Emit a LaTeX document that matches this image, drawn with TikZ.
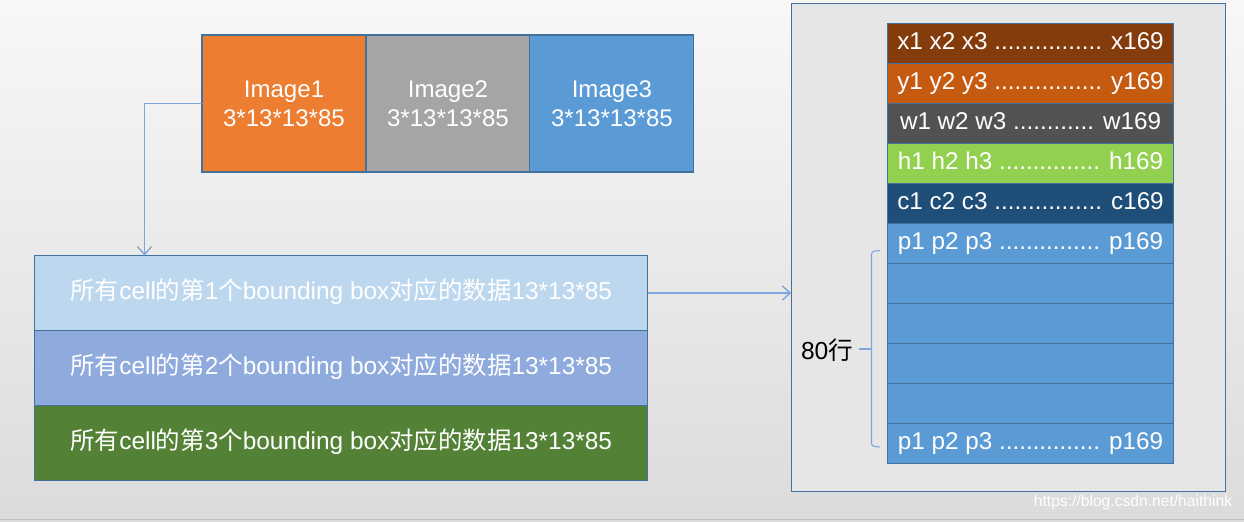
\documentclass[tikz,border=0pt]{standalone}
\usepackage{fontspec}
\setmainfont{Liberation Sans}
\newfontfamily\cjk{Noto Sans CJK SC}
\usepackage{xcolor}
\usepackage{tikz}
\usetikzlibrary{arrows.meta,positioning}

\definecolor{edgeblue}{HTML}{41719C}
\definecolor{connblue}{HTML}{7EA6DA}
\definecolor{imgorange}{HTML}{ED7D31}
\definecolor{imggray}{HTML}{A5A5A5}
\definecolor{imgblue}{HTML}{5B9BD5}
\definecolor{boxone}{HTML}{BDD7EE}
\definecolor{boxtwo}{HTML}{8FAADC}
\definecolor{boxthree}{HTML}{538135}
\definecolor{rowx}{HTML}{843C0C}
\definecolor{rowy}{HTML}{C55A11}
\definecolor{roww}{HTML}{525252}
\definecolor{rowh}{HTML}{92D050}
\definecolor{rowc}{HTML}{1F4E79}
\definecolor{rowp}{HTML}{5B9BD5}
\definecolor{panelgray}{HTML}{E6E6E6}

\newcommand{\zh}[1]{{\cjk #1}}

\tikzset{
  imgbox/.style={draw=edgeblue,line width=0.6pt,text=white,align=center,
    minimum width=3.28cm,minimum height=2.74cm,inner sep=0pt,outer sep=0pt,
    font=\fontsize{13.7}{16.6}\selectfont},
  bbox/.style={draw=edgeblue,line width=0.6pt,text=white,
    minimum width=12.27cm,minimum height=1.5cm,inner sep=0pt,outer sep=0pt,
    text height=0.72em,text depth=0pt,
    font=\fontsize{13.9}{16}\selectfont},
  cell/.style={draw=edgeblue,line width=0.6pt,text=white,
    minimum width=5.72cm,minimum height=0.8cm,inner sep=0pt,outer sep=0pt,
    text height=0.72em,text depth=0pt,
    font=\fontsize{13.8}{16}\selectfont},
  conn/.style={connblue,line width=0.8pt,-{Straight Barb[length=4.5pt,width=8pt]}}
}

\begin{document}
\begin{tikzpicture}[x=0.02cm,y=-0.02cm]
    % background
    \shade[top color=white!97!black,bottom color=white!86!black] (0,0) rectangle (1244,521);
    \useasboundingbox (0,0) rectangle (1244,521);
    \draw[white!75!black,line width=0.6pt] (0,519.5) -- (1244,519.5);

    % the three images
    \node[imgbox,fill=imgorange] (img1) at (284,103.5) {Image1\\3*13*13*85};
    \node[imgbox,fill=imggray,right=0pt of img1] (img2) {Image2\\3*13*13*85};
    \node[imgbox,fill=imgblue,right=0pt of img2] (img3) {Image3\\3*13*13*85};

    % the three bounding boxes
    \node[bbox,fill=boxone] (bb1) at (341.25,293)
      {\zh{所有}cell\zh{的第}1\zh{个}bounding box\zh{对应的数据}13*13*85};
    \node[bbox,fill=boxtwo,below=0pt of bb1] (bb2)
      {\zh{所有}cell\zh{的第}2\zh{个}bounding box\zh{对应的数据}13*13*85};
    \node[bbox,fill=boxthree,below=0pt of bb2] (bb3)
      {\zh{所有}cell\zh{的第}3\zh{个}bounding box\zh{对应的数据}13*13*85};

    \coordinate (drop) at (144.5,255.5);
    \draw[conn] (img1.west) -| (drop);

    % right panel with the 85 rows
    \node[draw=edgeblue,line width=0.6pt,fill=panelgray,minimum width=8.69cm,
      minimum height=9.78cm,inner sep=0pt,outer sep=0pt] (panel) at (1008.5,247.5) {};
    \draw[conn] (bb1.east) -- (panel.west |- bb1.east);

    \node[cell,fill=rowx] (rx) at (1030.5,43.3) {x1 x2 x3 ................ x169};
    \node[cell,fill=rowy,below=0pt of rx] (ry) {y1 y2 y3 ................ y169};
    \node[cell,fill=roww,below=0pt of ry] (rw) {w1 w2 w3 ............ w169};
    \node[cell,fill=rowh,below=0pt of rw] (rh) {h1 h2 h3 ............... h169};
    \node[cell,fill=rowc,below=0pt of rh] (rc) {c1 c2 c3 ................ c169};
    \node[cell,fill=rowp,below=0pt of rc] (rp1) {p1 p2 p3 ............... p169};
    \node[cell,fill=rowp,below=0pt of rp1] (rp2) {};
    \node[cell,fill=rowp,below=0pt of rp2] (rp3) {};
    \node[cell,fill=rowp,below=0pt of rp3] (rp4) {};
    \node[cell,fill=rowp,below=0pt of rp4] (rp5) {};
    \node[cell,fill=rowp,below=0pt of rp5] (rp6) {p1 p2 p3 ............... p169};

    % brace for the 80 rows
    \draw[connblue,line width=0.6pt,rounded corners=1.5pt]
      (880,250.5) -- (871.5,251.5) -- (871.5,446) -- (880,447);
    \node[font=\fontsize{14}{16}\selectfont] (rows) at (827,350) {80\zh{行}};
    \draw[connblue,line width=0.6pt] (rows.east |- 0,349) -- (871.5,349);

    \node[white,font=\fontsize{8.9}{11}\selectfont] (mark) at (1133,502) {https://blog.csdn.net/haithink};
\end{tikzpicture}
\end{document}
